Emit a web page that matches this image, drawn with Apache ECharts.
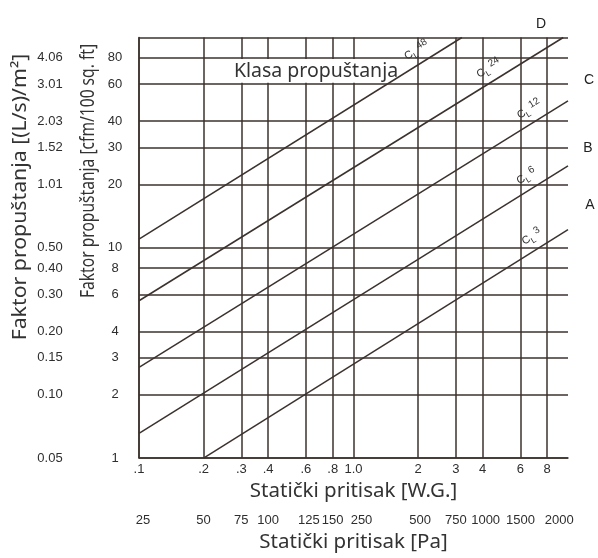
<!DOCTYPE html>
<html><head><meta charset="utf-8">
<script src="https://cdn.jsdelivr.net/npm/echarts@6/dist/echarts.min.js"></script>
<style>html,body{margin:0;padding:0;background:#fff}#c{width:598px;height:558px}</style>
</head><body><div id="c"></div>
<script>
// ---- data ----
const classNames = ['48', '24', '12', '6', '3'];
const cl48 = [[0.1, 11.0], [3.2, 100]];
const cl24 = [[0.1, 5.6], [9.5, 100]];
const cl12 = [[0.1, 2.7], [10, 50]];
const cl6  = [[0.1, 1.31], [10, 24.5]];
const cl3  = [[0.2, 1.0], [10, 12.2]];
const tagPositions = [2.12, 4.6, 7.1, 6.9, 7.3]; // W.G. where the C_L tags sit

const wgTicks  = [0.1, 0.2, 0.3, 0.4, 0.6, 0.8, 1, 2, 3, 4, 6, 8];
const wgLabels = ['.1', '.2', '.3', '.4', '.6', '.8', '1.0', '2', '3', '4', '6', '8'];
const paLabels = ['25', '50', '75', '100', '125', '150', '250', '500', '750', '1000', '1500', '2000'];
const cfmTicks  = [1, 2, 3, 4, 6, 8, 10, 20, 30, 40, 60, 80, 100];
const cfmLabels = ['1', '2', '3', '4', '6', '8', '10', '20', '30', '40', '60', '80', ''];
const siLabels  = ['0.05', '0.10', '0.15', '0.20', '0.30', '0.40', '0.50', '1.01', '1.52', '2.03', '3.01', '4.06', ''];
const classLetters = ['D', 'C', 'B', 'A'];

// ---- chart ----
const lineColor = '#3b322e';
const narrow = '"Liberation Sans Narrow", "Liberation Sans", sans-serif';
const xTickFont = { fontFamily: narrow, fontSize: 13, color: '#2e2e2e' };
const yTickFont = { fontFamily: 'Liberation Sans', fontSize: 13, color: '#2e2e2e' };
const titleFont = 'Noto Sans';
const titleSize = 19.5;
const lines = [cl48, cl24, cl12, cl6, cl3];
const paShift = { '25': 8, '125': 6, '250': 16, '500': 4, '1000': 6, '2000': 24 };

function pick(ticks, labels) {
  return function (v) {
    for (let i = 0; i < ticks.length; i++) {
      if (Math.abs(Math.log10(v) - Math.log10(ticks[i])) < 1e-6) return labels[i];
    }
    return '';
  };
}
const paPick = pick(wgTicks, paLabels);
const paRich = {};
Object.keys(paShift).forEach(k => { paRich['p' + k] = { padding: [0, 0, 0, paShift[k]] }; });

const chart = echarts.init(document.getElementById('c'), null, { renderer: 'canvas' });
chart.setOption({
  animation: false,
  backgroundColor: '#fff',
  grid: { left: 139, right: 30, top: 37.5, bottom: 98 },
  xAxis: [
    {
      type: 'log', logBase: 10, min: 0.1, max: 10, position: 'bottom',
      axisLine: { show: true, lineStyle: { color: lineColor, width: 1.5 } },
      axisTick: { show: false, customValues: wgTicks },
      splitLine: { show: true, lineStyle: { color: lineColor, width: 1.5 } },
      axisLabel: Object.assign({ customValues: wgTicks, formatter: pick(wgTicks, wgLabels), margin: 5 }, xTickFont),
      name: 'Statički pritisak [W.G.]', nameLocation: 'middle', nameGap: 22,
      nameTextStyle: { fontFamily: titleFont, fontSize: 20.5, color: '#333' }
    },
    {
      type: 'log', logBase: 10, min: 0.1, max: 10, position: 'bottom', offset: 51,
      axisLine: { show: false }, axisTick: { show: false, customValues: wgTicks }, splitLine: { show: false },
      axisLabel: Object.assign({
        customValues: wgTicks, margin: 5, rich: paRich,
        formatter: v => { const s = paPick(v); return paShift[s] ? '{p' + s + '|' + s + '}' : s; }
      }, xTickFont),
      name: 'Statički pritisak [Pa]', nameLocation: 'middle', nameGap: 22,
      nameTextStyle: { fontFamily: titleFont, fontSize: 20.5, color: '#333' }
    }
  ],
  yAxis: [
    {
      type: 'log', logBase: 10, min: 1, max: 100, position: 'left',
      axisLine: { show: true, lineStyle: { color: lineColor, width: 1.5 } },
      axisTick: { show: false, customValues: cfmTicks },
      splitLine: { show: true, lineStyle: { color: lineColor, width: 1.5 } },
      axisLabel: Object.assign({ customValues: cfmTicks, formatter: pick(cfmTicks, cfmLabels), margin: 24, align: 'center' }, yTickFont)
    },
    {
      type: 'log', logBase: 10, min: 1, max: 100, position: 'left',
      axisLine: { show: false }, axisTick: { show: false, customValues: cfmTicks }, splitLine: { show: false },
      axisLabel: Object.assign({ customValues: cfmTicks, formatter: pick(cfmTicks, siLabels), margin: 89, align: 'center' }, yTickFont)
    }
  ],
  series: lines.map((d, i) => ({
    type: 'line', name: 'C_L ' + classNames[i], data: d, xAxisIndex: 0, yAxisIndex: 0,
    symbol: 'none', z: 5, clip: true,
    lineStyle: { color: lineColor, width: 1.5 }
  }))
});

// ---- annotations ----
function onLine(d, x) {
  const lx1 = Math.log10(d[0][0]), ly1 = Math.log10(d[0][1]);
  const lx2 = Math.log10(d[1][0]), ly2 = Math.log10(d[1][1]);
  const t = (Math.log10(x) - lx1) / (lx2 - lx1);
  return Math.pow(10, ly1 + t * (ly2 - ly1));
}
const graphics = [];
const b1 = chart.convertToPixel({ xAxisIndex: 0, yAxisIndex: 0 }, [0.226, 79]);
const b2 = chart.convertToPixel({ xAxisIndex: 0, yAxisIndex: 0 }, [1.6, 61]);
graphics.push({ type: 'rect', z: 3, shape: { x: b1[0], y: b1[1], width: b2[0] - b1[0], height: b2[1] - b1[1] }, style: { fill: '#fff' } });
graphics.push({ type: 'text', z: 4, x: 316, y: 71, style: { text: 'Klasa propuštanja', font: titleSize + 'px "' + titleFont + '"', fill: '#333', textAlign: 'center', textVerticalAlign: 'middle' } });

lines.forEach((d, i) => {
  const p1 = chart.convertToPixel({ xAxisIndex: 0, yAxisIndex: 0 }, d[0]);
  const p2 = chart.convertToPixel({ xAxisIndex: 0, yAxisIndex: 0 }, d[1]);
  const th = Math.atan2(p1[1] - p2[1], p2[0] - p1[0]);
  const x = tagPositions[i];
  const p = chart.convertToPixel({ xAxisIndex: 0, yAxisIndex: 0 }, [x, onLine(d, x)]);
  const off = 13;
  graphics.push({
    type: 'text', z: 6, x: p[0] - off * Math.sin(th), y: p[1] - off * Math.cos(th), rotation: th,
    style: {
      text: '{c|C}{s|L}{n| ' + classNames[i] + '}', textAlign: 'center', textVerticalAlign: 'middle',
      rich: {
        c: { fontFamily: 'Liberation Sans', fontSize: 11, lineHeight: 16, fill: '#333', verticalAlign: 'middle' },
        s: { fontFamily: 'Liberation Sans', fontSize: 8, lineHeight: 16, fill: '#333', verticalAlign: 'bottom' },
        n: { fontFamily: 'Liberation Sans', fontSize: 10, lineHeight: 16, fill: '#333', verticalAlign: 'top' }
      }
    }
  });
});

const letterPos = [[541, 24], [589, 80], [588, 148], [590, 205]];
classLetters.forEach((t, i) => {
  graphics.push({ type: 'text', x: letterPos[i][0], y: letterPos[i][1], style: { text: t, font: '14px "Liberation Sans"', fill: '#222', textAlign: 'center', textVerticalAlign: 'middle' } });
});

graphics.push({ type: 'text', x: 20, y: 197, rotation: Math.PI / 2, scaleX: 1.09, style: { text: 'Faktor propuštanja [(L/s)/m²]', font: titleSize + 'px "' + titleFont + '"', fill: '#333', textAlign: 'center', textVerticalAlign: 'middle' } });
graphics.push({ type: 'text', x: 88, y: 171, rotation: Math.PI / 2, scaleX: 0.8, style: { text: 'Faktor propuštanja [cfm/100 sq. ft]', font: titleSize + 'px "' + titleFont + '"', fill: '#333', textAlign: 'center', textVerticalAlign: 'middle' } });

chart.setOption({ graphic: { elements: graphics } });
</script>
</body></html>
